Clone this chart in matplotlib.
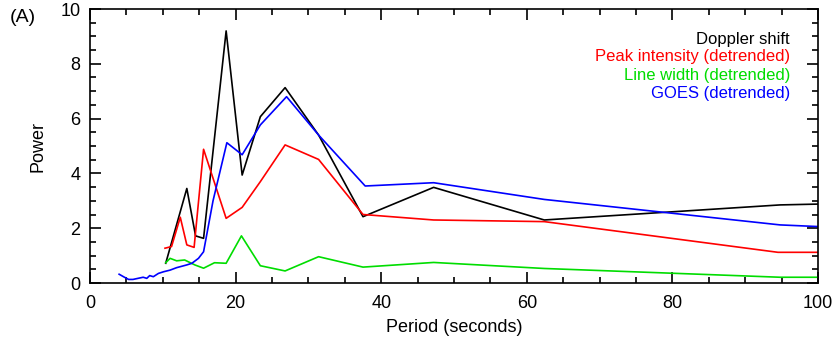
import numpy as np
import matplotlib
matplotlib.use('Agg')
import matplotlib.pyplot as plt
from matplotlib.ticker import MultipleLocator

plt.rcParams['font.family'] = ['Liberation Sans', 'DejaVu Sans']

# Doppler shift (black)
period_doppler = [10.4, 13.3, 14.5, 15.6, 18.7, 20.9, 23.4, 26.8, 31.4, 37.5, 47.2, 62.4, 94.8, 100]
power_doppler = [0.72, 3.45, 1.72, 1.63, 9.2, 3.94, 6.07, 7.13, 5.4, 2.42, 3.49, 2.30, 2.85, 2.88]

# Peak intensity, detrended (red)
period_peak = [10.3, 11.2, 12.4, 13.3, 14.3, 15.6, 18.7, 20.9, 23.4, 26.8, 31.4, 37.5, 47.2, 62.4, 94.5, 100]
power_peak = [1.27, 1.33, 2.40, 1.39, 1.30, 4.88, 2.36, 2.76, 3.7, 5.04, 4.51, 2.5, 2.30, 2.24, 1.12, 1.12]

# Line width, detrended (green)
period_width = [10.4, 11.0, 11.9, 13.0, 14.4, 15.6, 17.1, 18.7, 20.8, 23.4, 26.8, 31.4, 37.5, 47.2, 62.4, 94.8, 100]
power_width = [0.74, 0.90, 0.81, 0.84, 0.66, 0.54, 0.74, 0.72, 1.72, 0.63, 0.44, 0.96, 0.58, 0.75, 0.53, 0.21, 0.21]

# GOES, detrended (blue)
period_goes = [4.0, 4.6, 5.3, 5.9, 6.6, 7.3, 7.8, 8.2, 8.7, 9.4, 10.1, 11.0, 11.9, 13.3, 14.0, 14.9,
               15.6, 16.9, 18.8, 20.9, 23.4, 27.0, 31.4, 37.8, 47.2, 62.4, 94.8, 100]
power_goes = [0.32, 0.23, 0.13, 0.13, 0.17, 0.21, 0.17, 0.27, 0.23, 0.35, 0.41, 0.47, 0.56, 0.66, 0.72, 0.9,
              1.14, 3.0, 5.12, 4.68, 5.77, 6.80, 5.40, 3.54, 3.66, 3.05, 2.12, 2.06]

series_labels = ['Doppler shift', 'Peak intensity (detrended)', 'Line width (detrended)', 'GOES (detrended)']
series_colors = ['black', 'red', '#00dd00', 'blue']

fig = plt.figure(figsize=(8.38, 3.40), dpi=100)
ax = fig.add_axes([90/838, 57/340, 728/838, 274/340])

ax.plot(period_doppler, power_doppler, color=series_colors[0], lw=1.2)
ax.plot(period_peak, power_peak, color=series_colors[1], lw=1.2)
ax.plot(period_width, power_width, color=series_colors[2], lw=1.2)
ax.plot(period_goes, power_goes, color=series_colors[3], lw=1.2)

ax.set_xlim(0, 100)
ax.set_ylim(0, 10)
ax.xaxis.set_major_locator(MultipleLocator(20))
ax.xaxis.set_minor_locator(MultipleLocator(5))
ax.yaxis.set_major_locator(MultipleLocator(2))
ax.yaxis.set_minor_locator(MultipleLocator(0.5))
ax.tick_params(which='both', direction='in', top=True, right=True, labelsize=13, width=1.2)
ax.tick_params(which='major', length=8)
ax.tick_params(axis='x', which='major', pad=9)
ax.tick_params(axis='y', which='major', pad=7)
ax.tick_params(which='minor', length=4)
for s in ax.spines.values():
    s.set_linewidth(1.2)

ax.set_xlabel('Period (seconds)', fontsize=13, labelpad=5)
ax.set_ylabel('Power', fontsize=13, labelpad=10)

legend_y = [0.887, 0.825, 0.759, 0.693]
for lab, col, yy in zip(series_labels, series_colors, legend_y):
    ax.text(0.9615, yy, lab, color=col, ha='right', va='center', fontsize=12, transform=ax.transAxes)

fig.text(10/838, 1 - 18/340, '(A)', fontsize=14, va='center', ha='left')

fig.savefig('out.png', dpi=100)
